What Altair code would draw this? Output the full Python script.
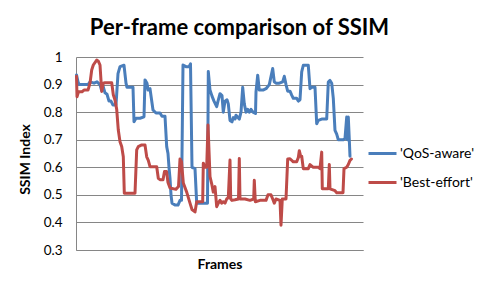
import altair as alt
import pandas as pd

# --- data ---
qos_frames = [0.5, 2, 3, 12, 14, 18, 21, 24, 25.5, 27, 29, 31, 33, 35, 37, 40, 42, 44, 48, 50,
              51, 57, 58, 60, 64, 68, 69, 71, 72, 74, 77, 80, 84, 86, 89, 90.7, 92, 93, 94, 95,
              96, 99, 102, 104, 105.5, 107, 110, 113, 114.5, 116, 119, 120.7, 131.5, 132.3, 134,
              136, 138, 140.7, 142, 144, 146, 147.3, 149, 151, 152.3, 154, 156, 157.3, 159, 160,
              163.3, 165, 166.7, 168.3, 170, 171.7, 173.3, 175, 177, 179.5, 180, 181.7, 183.3,
              187, 190, 193.3, 196.7, 198.3, 200, 203.3, 206.7, 208.3, 210, 211.7, 214, 215.7,
              217.3, 220.7, 222.3, 224, 225.7, 227.3, 232.3, 234, 235.7, 239, 240.7, 242.3, 245.7,
              250.7, 252.3, 254, 255.7, 257.3, 259, 260.7, 262.3, 267.3, 269, 270.7, 271.3, 272.3,
              273.3, 274]
qos_ssim = [0.935, 0.91, 0.90, 0.90, 0.91, 0.905, 0.91, 0.90, 0.88, 0.895, 0.87, 0.865, 0.84, 0.84,
            0.826, 0.826, 0.94, 0.965, 0.97, 0.905, 0.89, 0.89, 0.765, 0.778, 0.778, 0.783, 0.917,
            0.905, 0.88, 0.885, 0.808, 0.797, 0.797, 0.785, 0.785, 0.675, 0.65, 0.60, 0.56, 0.50,
            0.47, 0.463, 0.463, 0.48, 0.48, 0.971, 0.965, 0.965, 0.975, 0.60, 0.595, 0.47, 0.47,
            0.947, 0.88, 0.858, 0.84, 0.82, 0.84, 0.867, 0.86, 0.80, 0.84, 0.845, 0.83, 0.77, 0.765,
            0.78, 0.775, 0.789, 0.775, 0.80, 0.89, 0.83, 0.80, 0.81, 0.80, 0.81, 0.80, 0.795, 0.873,
            0.934, 0.88, 0.88, 0.885, 0.90, 0.958, 0.91, 0.905, 0.905, 0.91, 0.93, 0.90, 0.876,
            0.876, 0.862, 0.85, 0.85, 0.84, 0.845, 0.946, 0.97, 0.97, 0.885, 0.89, 0.89, 0.758,
            0.77, 0.775, 0.775, 0.909, 0.915, 0.905, 0.85, 0.734, 0.72, 0.70, 0.70, 0.705, 0.782,
            0.70, 0.782, 0.70, 0.64]

best_frames = [0.5, 1, 2.5, 6, 8, 12, 14, 15.7, 17.3, 20.7, 22.3, 24, 25.7, 27.3, 29, 35.7, 37.3,
               39, 40.7, 42.3, 44, 45.7, 47.3, 48.3, 59, 60.7, 62.3, 65.7, 69, 70.7, 72.3, 74,
               80.7, 82.3, 84, 87, 88.5, 90.5, 92, 94, 100, 102.5, 104, 105.5, 107.3, 110.7, 114,
               116, 119, 120.7, 126.7, 127.3, 129, 130.7, 132, 134, 135.7, 137.3, 139, 140.7, 142.3,
               144, 145.7, 147.3, 149, 150.7, 152.3, 154, 154.7, 156, 159, 162.5, 163.3, 164, 169,
               174, 177.7, 178.3, 179.3, 184, 190, 192, 195, 196.7, 198.3, 200, 204, 205, 206.3,
               210, 211.7, 214, 217.3, 220.7, 222.3, 223.3, 224.7, 225.7, 227.3, 232.3, 234, 237.3,
               242.3, 244, 245.7, 246.3, 252.3, 253.3, 254, 259, 260.7, 267, 268, 270.7, 272.3,
               274, 275.5]
best_ssim = [0.93, 0.856, 0.874, 0.874, 0.88, 0.88, 0.905, 0.953, 0.971, 0.989, 0.985, 0.971, 0.875,
             0.905, 0.907, 0.907, 0.863, 0.844, 0.81, 0.735, 0.693, 0.675, 0.638, 0.506, 0.506,
             0.663, 0.675, 0.681, 0.681, 0.638, 0.625, 0.602, 0.602, 0.56, 0.555, 0.555, 0.585,
             0.585, 0.545, 0.525, 0.52, 0.53, 0.63, 0.62, 0.543, 0.51, 0.47, 0.447, 0.438, 0.475,
             0.475, 0.615, 0.60, 0.60, 0.753, 0.566, 0.54, 0.51, 0.53, 0.457, 0.47, 0.48, 0.47,
             0.475, 0.47, 0.485, 0.49, 0.626, 0.485, 0.48, 0.482, 0.485, 0.632, 0.485, 0.485, 0.48,
             0.485, 0.553, 0.475, 0.48, 0.48, 0.50, 0.50, 0.485, 0.47, 0.485, 0.48, 0.39, 0.485,
             0.485, 0.63, 0.631, 0.62, 0.62, 0.635, 0.66, 0.64, 0.64, 0.595, 0.595, 0.61, 0.60,
             0.60, 0.595, 0.655, 0.522, 0.522, 0.61, 0.522, 0.515, 0.508, 0.508, 0.595, 0.60, 0.61,
             0.625, 0.63]

series_names = ["'QoS-aware'", "'Best-effort'"]
series_colors = ["#4A7EBB", "#BE4B48"]
y_ticks = [0.3, 0.4, 0.5, 0.6, 0.7, 0.8, 0.9, 1.0]

df = pd.concat([
    pd.DataFrame({"frame": qos_frames, "ssim": qos_ssim, "series": series_names[0]}),
    pd.DataFrame({"frame": best_frames, "ssim": best_ssim, "series": series_names[1]}),
])

FONT = "Lato"

x_enc = alt.X("frame:Q",
              scale=alt.Scale(domain=[0, 287], nice=False, zero=False),
              axis=alt.Axis(title="Frames", labels=False, ticks=False, grid=False,
                            domainColor="#868686", titleFont=FONT, titleFontSize=14,
                            titleFontWeight="bold", titleColor="#000000",
                            titleBaseline="alphabetic", titleY=18))
y_enc = alt.Y("ssim:Q",
              scale=alt.Scale(domain=[0.3, 1.0], nice=False, zero=False),
              axis=alt.Axis(title="SSIM Index", values=y_ticks, format="~g", ticks=False,
                            tickSize=0, labelPadding=14, labelFont=FONT, labelFontSize=13.5,
                            labelColor="#000000", gridColor="#868686", domainColor="#868686",
                            titleFont=FONT, titleFontSize=14, titleFontWeight="bold",
                            titleColor="#000000", titleAngle=-90, titleBaseline="alphabetic",
                            titleAlign="center", titleX=-47, titleY=102))
color_enc = alt.Color("series:N",
                      scale=alt.Scale(domain=series_names, range=series_colors),
                      legend=alt.Legend(title=None, orient="none", legendX=291, legendY=81,
                                        symbolType="stroke", symbolSize=784,
                                        symbolStrokeWidth=3, labelFont=FONT,
                                        labelFontSize=14, labelColor="#000000",
                                        labelOffset=2, rowPadding=6))

base = alt.Chart(df).mark_line(strokeWidth=3, strokeJoin="round", strokeCap="round").encode(
    x=x_enc, y=y_enc, color=color_enc, order="frame:Q")

blue = base.transform_filter(alt.datum.series == series_names[0])
red = base.transform_filter(alt.datum.series == series_names[1])

chart = alt.layer(blue, red).properties(
    width=287, height=193,
    title=alt.TitleParams("Per-frame comparison of SSIM", font=FONT, fontSize=22,
                          fontWeight="bold", color="#000000", anchor="middle",
                          baseline="alphabetic", offset=23, dx=20, dy=30),
    autosize=alt.AutoSizeParams(type="none"),
    padding={"left": 68, "top": 49, "right": 112, "bottom": 33},
    background="white",
).configure_view(strokeWidth=0)

chart.save("out.html", embed_options={"renderer": "svg", "actions": False})
